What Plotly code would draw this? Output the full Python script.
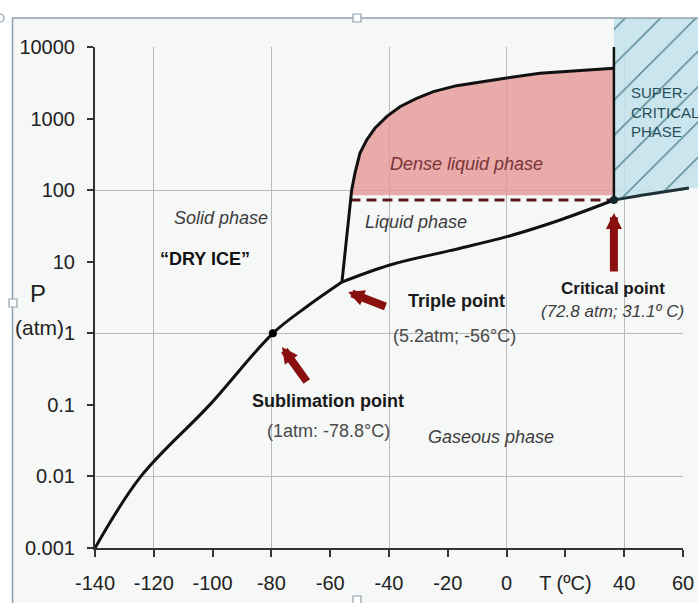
import plotly.graph_objects as go

# ---------------- data ----------------
SUB_T = [-140, -124.4, -101, -79.5, -68, -56]
SUB_P = [0.001, 0.01, 0.1, 1.0, 2.35, 5.2]

MELT_T = [-56, -54.4, -53.3, -52.7, -51.6, -49.9, -47.6, -44.8, -40.8, -36.3,
          -30.6, -24.9, -17.0, -9.0, -2.2, 11.3, 36.5]
MELT_P = [5.2, 20, 59, 100, 172, 327, 502, 731, 1064, 1466,
          1919, 2377, 2884, 3281, 3573, 4295, 5050]

VAP_T = [-56, -39.7, -19.3, 0.1, 18.2, 36.5]
VAP_P = [5.2, 9.0, 14.3, 22.4, 38.3, 72.8]

SUPER_T = [36.5, 48.8, 62.0]
SUPER_P = [72.8, 88.4, 107]

TRIPLE_T, TRIPLE_P = -56, 5.2
CRIT_T, CRIT_P = 36.5, 72.8
SUBL_T, SUBL_P = -79.5, 1.0
DASH_T0 = -53.1
ISOTHERM_TOP_P = 10000
DENSE_BOTTOM_P = 85
DENSE_BOTTOM_T0 = -53.0

X_TICKS = [-140, -120, -100, -80, -60, -40, -20, 0, 20, 40, 60]
X_TICKTEXT = ["-140", "-120", "-100", "-80", "-60", "-40", "-20", "0", "T (ºC)", "40", "60"]
Y_TICKS = [0.001, 0.01, 0.1, 1, 10, 100, 1000, 10000]
Y_TICKTEXT = ["0.001", "0.01", "0.1", "1", "10", "100", "1000", "10000"]
X_GRID = [-120, -80, -40, 0, 40]
Y_GRID = [0.01, 1, 100]

X_RANGE = [-140, 60]
Y_RANGE_LOG = [-3, 4]

# ---------------- layout geometry ----------------
W, H = 698, 603
ML, MR, MT, MB = 95, 0, 18, 55
FX = 588 / (W - ML - MR)      # visible axes fraction of paper width
FY = 501 / (H - MT - MB)      # visible axes fraction of paper height
X2_RANGE = [X_RANGE[0], X_RANGE[0] + (X_RANGE[1] - X_RANGE[0]) / FX]
Y2_RANGE = [Y_RANGE_LOG[0], Y_RANGE_LOG[0] + (Y_RANGE_LOG[1] - Y_RANGE_LOG[0]) / FY]

SANS = "Liberation Sans, Arial, sans-serif"
CURVE = "#111111"

fig = go.Figure()
XY = dict(xaxis="x2", yaxis="y2")

# dense liquid (pink)
dense_x = [DENSE_BOTTOM_T0] + [t for t, p in zip(MELT_T, MELT_P) if p > DENSE_BOTTOM_P] + [CRIT_T]
dense_y = [DENSE_BOTTOM_P] + [p for p in MELT_P if p > DENSE_BOTTOM_P] + [DENSE_BOTTOM_P]
fig.add_trace(go.Scatter(x=dense_x, y=dense_y, fill="toself", mode="none",
                         fillcolor="rgba(229,152,152,0.82)", hoverinfo="skip", **XY))

# supercritical (blue hatched)
top = 10 ** (Y2_RANGE[1] + 0.2)
right = X2_RANGE[1] + 5
sc_x = SUPER_T + [right, right, CRIT_T]
sc_y = SUPER_P + [SUPER_P[-1], top, top]
fig.add_trace(go.Scatter(x=sc_x, y=sc_y, fill="toself", mode="none",
                         fillcolor="rgba(194,226,235,0.85)",
                         fillpattern=dict(shape="/", bgcolor="rgba(194,226,235,0.85)",
                                          fgcolor="#54878f", size=25, solidity=0.06),
                         hoverinfo="skip", **XY))

# dashed line at critical pressure
fig.add_trace(go.Scatter(x=[DASH_T0, CRIT_T], y=[CRIT_P, CRIT_P], mode="lines",
                         line=dict(color="#5a1a1e", width=3, dash="10px,6px"), **XY))
# liquid-vapour curve
fig.add_trace(go.Scatter(x=VAP_T, y=VAP_P, mode="lines",
                         line=dict(color=CURVE, width=3, shape="spline"), **XY))
# beyond critical point
fig.add_trace(go.Scatter(x=SUPER_T, y=SUPER_P, mode="lines",
                         line=dict(color="#1d3136", width=3, shape="spline"), **XY))
# critical isotherm
fig.add_trace(go.Scatter(x=[CRIT_T, CRIT_T], y=[CRIT_P, ISOTHERM_TOP_P], mode="lines",
                         line=dict(color=CURVE, width=2.5), **XY))
# melting curve
fig.add_trace(go.Scatter(x=MELT_T, y=MELT_P, mode="lines",
                         line=dict(color=CURVE, width=3), **XY))
# sublimation curve
fig.add_trace(go.Scatter(x=SUB_T, y=SUB_P, mode="lines",
                         line=dict(color=CURVE, width=3, shape="spline", smoothing=1.0), **XY))
# points
fig.add_trace(go.Scatter(x=[SUBL_T], y=[SUBL_P], mode="markers",
                         marker=dict(color="#000", size=8), **XY))
fig.add_trace(go.Scatter(x=[CRIT_T], y=[CRIT_P], mode="markers",
                         marker=dict(color="#13282c", size=8), **XY))

# dummy traces to instantiate visible axes and grid overlay
fig.add_trace(go.Scatter(x=[None], y=[None], xaxis="x", yaxis="y"))
fig.add_trace(go.Scatter(x=[None], y=[None], xaxis="x3", yaxis="y3"))

tickfont = dict(family=SANS, size=20, color="#222")
fig.update_layout(
    width=W, height=H, template="none", showlegend=False,
    margin=dict(l=ML, r=MR, t=MT, b=MB, pad=0),
    paper_bgcolor="#ffffff", plot_bgcolor="rgba(0,0,0,0)",
    font=dict(family=SANS, size=18, color="#333"),
    xaxis=dict(domain=[0, FX], range=X_RANGE, anchor="y", showgrid=False, zeroline=False,
               showline=True, linecolor="#333", linewidth=2,
               ticks="outside", ticklen=7, tickwidth=1.5, tickcolor="#333",
               tickmode="array", tickvals=X_TICKS, ticktext=X_TICKTEXT,
               tickfont=tickfont, ticklabelstandoff=9, automargin=False),
    yaxis=dict(domain=[0, FY], type="log", range=Y_RANGE_LOG, anchor="x", showgrid=False,
               zeroline=False, showline=True, linecolor="#333", linewidth=2,
               ticks="outside", ticklen=6, tickwidth=1.5, tickcolor="#333",
               tickmode="array", tickvals=Y_TICKS, ticktext=Y_TICKTEXT,
               tickfont=tickfont, ticklabelstandoff=8, automargin=False),
    xaxis3=dict(overlaying="x", range=X_RANGE, anchor="y3", showgrid=True,
                gridcolor="#b9b9b9", gridwidth=1.3, tickmode="array", tickvals=X_GRID,
                showticklabels=False, ticks="", zeroline=False, showline=False),
    yaxis3=dict(overlaying="y", type="log", range=Y_RANGE_LOG, anchor="x3", showgrid=True,
                gridcolor="#b9b9b9", gridwidth=1.3, tickmode="array", tickvals=Y_GRID,
                showticklabels=False, ticks="", zeroline=False, showline=False),
    xaxis2=dict(domain=[0, 1], range=X2_RANGE, anchor="y2", visible=False),
    yaxis2=dict(domain=[0, 1], type="log", range=Y2_RANGE, anchor="x2", visible=False),
)

# background and frame (paper coords)
def px2paper_x(px):
    return (px - ML) / (W - ML - MR)

def py2paper_y(py):
    return (H - MB - py) / (H - MT - MB)

fig.add_shape(type="rect", xref="paper", yref="paper", layer="below",
              x0=px2paper_x(13), x1=1.01, y0=py2paper_y(605), y1=1,
              fillcolor="#f6f7f7", line_width=0)
fig.add_shape(type="line", xref="paper", yref="paper", x0=px2paper_x(12), x1=1.01,
              y0=1, y1=1, line=dict(color="#8fa0af", width=1.5))
fig.add_shape(type="line", xref="paper", yref="paper", x0=px2paper_x(12.5), x1=px2paper_x(12.5),
              y0=1, y1=py2paper_y(605), line=dict(color="#8fa0af", width=1.5))
for cx, cy, kind in [(0, 18, "circle"), (357, 18, "rect"), (13, 303, "rect"), (357, 600, "rect")]:
    fig.add_shape(type=kind, xref="paper", yref="paper",
                  x0=px2paper_x(cx - 4), x1=px2paper_x(cx + 4),
                  y0=py2paper_y(cy + 4), y1=py2paper_y(cy - 4),
                  fillcolor="#ffffff", line=dict(color="#8fa0af", width=1.2))

# ---------------- annotations ----------------
def note(text, x, y, size=18, color="#3a3a3a", italic=False, bold=False, family=SANS, **kw):
    if italic:
        text = "<i>" + text + "</i>"
    if bold:
        text = "<b>" + text + "</b>"
    fig.add_annotation(text=text, x=x, y=y, xref="x2", yref="y2", showarrow=False,
                       font=dict(size=size, color=color, family=family), **kw)

note("Solid phase", -97.1, 1.611, italic=True, color="#3d3d3d")
note("“DRY ICE”", -102.6, 1.038, bold=True, color="#111")
note("Dense liquid phase", -13.5, 2.365, italic=True, color="#7a3438")
note("Liquid phase", -30.8, 1.555, italic=True, color="#3d3d3d")
note("Triple point", -17.2, 0.451, bold=True, color="#1a1a1a")
note("(5.2atm; -56°C)", -17.6, -0.038, color="#4a4a4a")
note("Sublimation point", -60.7, -0.946, bold=True, color="#1a1a1a")
note("(1atm: -78.8°C)", -60.7, -1.365, color="#4a4a4a")
note("Critical point", 36.2, 0.619, bold=True, color="#1a1a1a", size=17)
note("(72.8 atm; 31.1º C)", 35.9, 0.311, italic=True, color="#3d3d3d", size=17)
note("Gaseous phase", -5.3, -1.449, italic=True, color="#3d3d3d")
note("SUPER-<br>CRITICAL<br>PHASE", 41.6, 3.092, size=15, color="#274f5a",
     xanchor="left", align="left")

# axis title pieces
fig.add_annotation(text="P", x=px2paper_x(37.5), y=py2paper_y(293), xref="paper", yref="paper",
                   xanchor="center", yanchor="middle",
                   showarrow=False, font=dict(family=SANS, size=24, color="#222"))
fig.add_annotation(text="(atm)", x=px2paper_x(39), y=py2paper_y(327), xref="paper", yref="paper",
                   xanchor="center", yanchor="middle",
                   showarrow=False, font=dict(family=SANS, size=21, color="#222"))

# arrows (dark red)
for tip, tail in [((-76.4, -0.192), (-67.6, -0.695)),
                  ((-53.9, 0.577), (-40.7, 0.367)),
                  ((CRIT_T, 1.681), (CRIT_T, 0.842))]:
    fig.add_annotation(text="", x=tip[0], y=tip[1], ax=tail[0], ay=tail[1],
                       xref="x2", yref="y2", axref="x2", ayref="y2",
                       showarrow=True, arrowhead=2, arrowwidth=8, arrowsize=0.4,
                       arrowcolor="#8a1010", standoff=0)

fig.write_html("out.html")
